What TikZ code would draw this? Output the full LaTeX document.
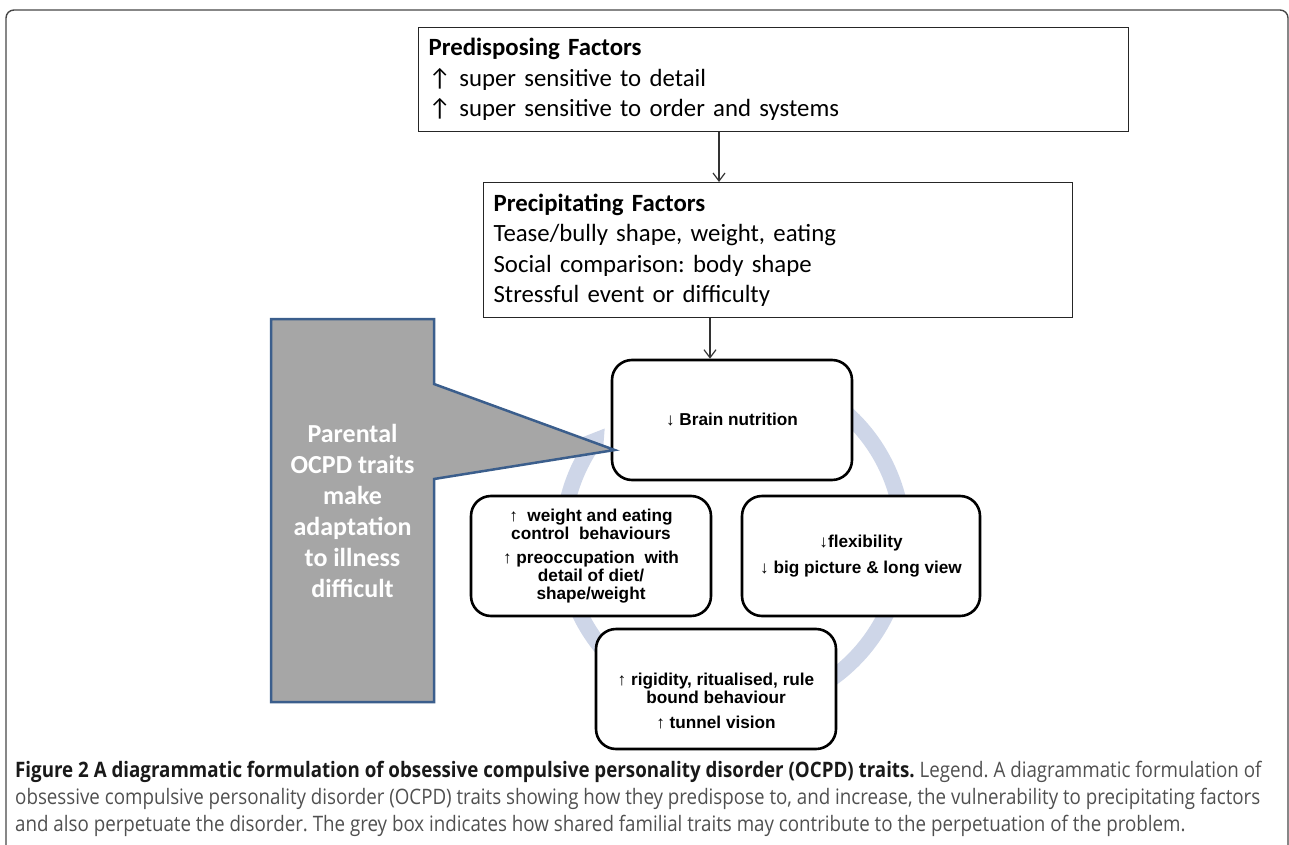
\documentclass[tikz,border=0pt]{standalone}
\usepackage{fontspec}
\setmainfont{Carlito}
\newfontfamily\cycfont{Liberation Sans}
\newfontfamily\capfont[FakeStretch=0.88]{Open Sans}
\usetikzlibrary{arrows.meta}
\definecolor{ringc}{RGB}{206,214,232}
\definecolor{callfill}{RGB}{166,166,166}
\definecolor{callline}{RGB}{59,94,140}
\definecolor{capgray}{RGB}{80,80,80}
\definecolor{framec}{RGB}{70,70,70}
\frenchspacing
\begin{document}
\begin{tikzpicture}[x=1pt,y=1pt,
  factor/.style={draw=black!85,line width=1.2pt,fill=white,align=left,anchor=north west,
    inner xsep=10pt,inner ysep=0pt,font=\fontsize{24.8}{30.5}\selectfont},
  cycbox/.style={draw=black,line width=2.6pt,rounded corners=20pt,fill=white,
    minimum width=240pt,minimum height=120pt,inner sep=0pt},
  cyctext/.style={align=center,inner sep=0pt,font=\cycfont\bfseries\fontsize{17.2}{17.7}\selectfont},
  arr/.style={draw=black!80,line width=1.2pt,-{Straight Barb[length=8pt,width=12pt]}},
  captext/.style={anchor=base west,inner sep=0pt,font=\capfont\fontsize{21.3}{27}\selectfont,text=capgray},
  calltext/.style={text=white,align=center,font=\bfseries\fontsize{26}{31}\selectfont}]

\useasboundingbox (0,0) rectangle (1289,-845);
% outer frame
\draw[framec,line width=1.4pt,rounded corners=8pt] (6,-900) -- (6,-10) -- (1288,-10) -- (1288,-900);

% ring arrow
\coordinate (c) at (733,-540);
\fill[ringc] ([shift={(80:178)}]c) arc[start angle=80,end angle=-215,radius=178]
  -- ([shift={(-215:162)}]c) arc[start angle=-215,end angle=80,radius=162] -- cycle;
\fill[ringc] ([shift={(146:183)}]c) -- ([shift={(139:170)}]c) -- ([shift={(146:157)}]c) -- cycle;

% top boxes
\node[factor,text width=690pt,minimum height=104pt] (pre) at (418,-27)
  {\textbf{Predisposing Factors}\\ ↑ super sensitive to detail\\ ↑ super sensitive to order and systems};
\node[factor,text width=569pt,minimum height=135pt] (prec) at (483,-182)
  {\textbf{Precipitating Factors}\\ Tease/bully shape, weight, eating\\ Social comparison: body shape\\ Stressful event or difficulty};

% cycle boxes
\node[cycbox] (brain) at (732,-420) {};
\node[cycbox] (weight) at (591,-556) {};
\node[cycbox,minimum width=238pt] (flex) at (861,-556) {};
\node[cycbox] (rigid) at (716,-689) {};

\node[cyctext] (tbrain) at (brain.center) {↓ Brain nutrition};
\node[cyctext] (tweight) at (weight.center) {↑\ \ weight and eating\\ control\ \ behaviours\\[7pt] ↑ preoccupation\ \ with\\ detail of diet/\\ shape/weight};
\node[cyctext] (tflex) at (flex.center) {↓flexibility\\[8pt] ↓ big picture \& long view};
\node[cyctext] (trigid) at ([yshift=-12pt]rigid.center) {↑ rigidity, ritualised, rule\\ bound behaviour\\[7pt] ↑ tunnel vision};

% connectors
\coordinate (x1) at (719,0);
\coordinate (x2) at (710,0);
\draw[arr] (pre.south -| x1) -- (prec.north -| x1);
\draw[arr] (prec.south -| x2) -- (brain.north -| x2);

% callout
\coordinate (tip) at ([xshift=4pt,yshift=-30pt]brain.west);
\draw[fill=callfill,draw=callline,line width=2.5pt,line join=miter]
  (271,-319) -- (434,-319) -- (434,-384) -- (tip) -- (434,-479) -- (434,-702) -- (271,-702) -- cycle;
\node[calltext] (parent) at (352.5,-511) {Parental\\OCPD traits\\make\\adaptation\\to illness\\difficult};

% caption
\node[captext] (cap1) at (15,-777) {{\bfseries\color{black!90}Figure 2 A diagrammatic formulation of obsessive compulsive personality disorder (OCPD) traits.} Legend. A diagrammatic formulation of};
\node[captext] (cap2) at (15,-804) {obsessive compulsive personality disorder (OCPD) traits showing how they predispose to, and increase, the vulnerability to precipitating factors};
\node[captext] (cap3) at (15,-831) {and also perpetuate the disorder. The grey box indicates how shared familial traits may contribute to the perpetuation of the problem.};
\end{tikzpicture}
\end{document}
